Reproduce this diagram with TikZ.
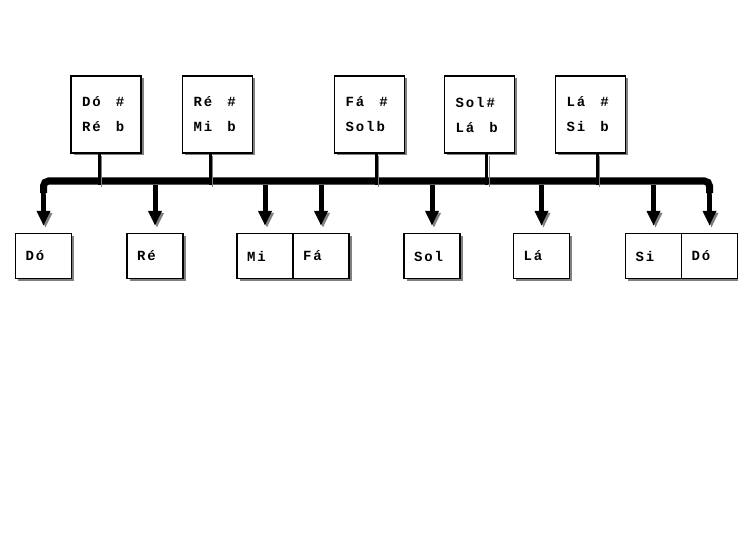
\documentclass[tikz,border=0pt]{standalone}
\usepackage{fontspec}
\newfontfamily\notefont[LetterSpace=14]{Liberation Mono}
\newcommand\notegap{\hspace{15pt}}
\usetikzlibrary{arrows.meta,calc,shadows}

\begin{document}
\begin{tikzpicture}[x=1pt,y=-1pt,
   notebox/.style={draw,line width=1.5pt,fill=white,align=left,inner ysep=0pt,
      font=\notefont\bfseries\fontsize{14}{25}\selectfont,
      drop shadow={shadow xshift=2.5pt,shadow yshift=-2.5pt,fill=gray,opacity=1}},
   key/.style={notebox,minimum height=45pt,inner xsep=10pt,text width=36pt},
   chord/.style={notebox,minimum height=77pt,inner xsep=11pt,text width=48pt},
   shade/.style={preaction={draw=gray,transform canvas={shift={(2pt,-2pt)}}}},
   bus/.style={shade,line width=7pt},
   stem/.style={shade,line width=3pt},
   keyarrow/.style={shade,line width=5pt,shorten >=7pt,-{Triangle[width=13pt,length=15pt]}}]
   \useasboundingbox (0,0) rectangle (738,556);
   \coordinate (bus) at (0,181);
   \foreach \n/\x/\t in {c/43.5/Dó, d/155/Ré, e/265/Mi, f/321/Fá, g/432/Sol,
                         a/541.5/Lá, b/653.5/Si, c2/709.5/Dó}
      \node[key] (\n) at (\x,256) {\t};
   \foreach \n/\x/\t in {cs/106/Dó\notegap\#\\Ré\notegap b, ds/217.5/Ré\notegap\#\\Mi\notegap b,
                         fs/369.5/Fá\notegap\#\\Solb, gs/479.5/Sol\#\\Lá\notegap b,
                         as/590.5/Lá\notegap\#\\Si\notegap b}
      \node[chord] (\n) at (\x,114.5) {\t};
   \foreach \n in {c,d,e,f,g,a,b,c2}
      \draw[keyarrow] ($(\n |- bus)+(0,3.5)$) -- (\n.north);
   \draw[bus,rounded corners=5pt] ($(c |- bus)+(0,12)$) -- (c |- bus)
         -- (c2 |- bus) -- ++(0,12);
   \foreach \n/\l/\r in {cs/c/d, ds/d/e, fs/f/g, gs/g/a, as/a/b} {
      \coordinate (m) at ($(\l)!.5!(\r)$);
      \draw[stem] (m |- \n.south) -- ($(m |- bus)+(0,3.5)$);
   }
\end{tikzpicture}
\end{document}
